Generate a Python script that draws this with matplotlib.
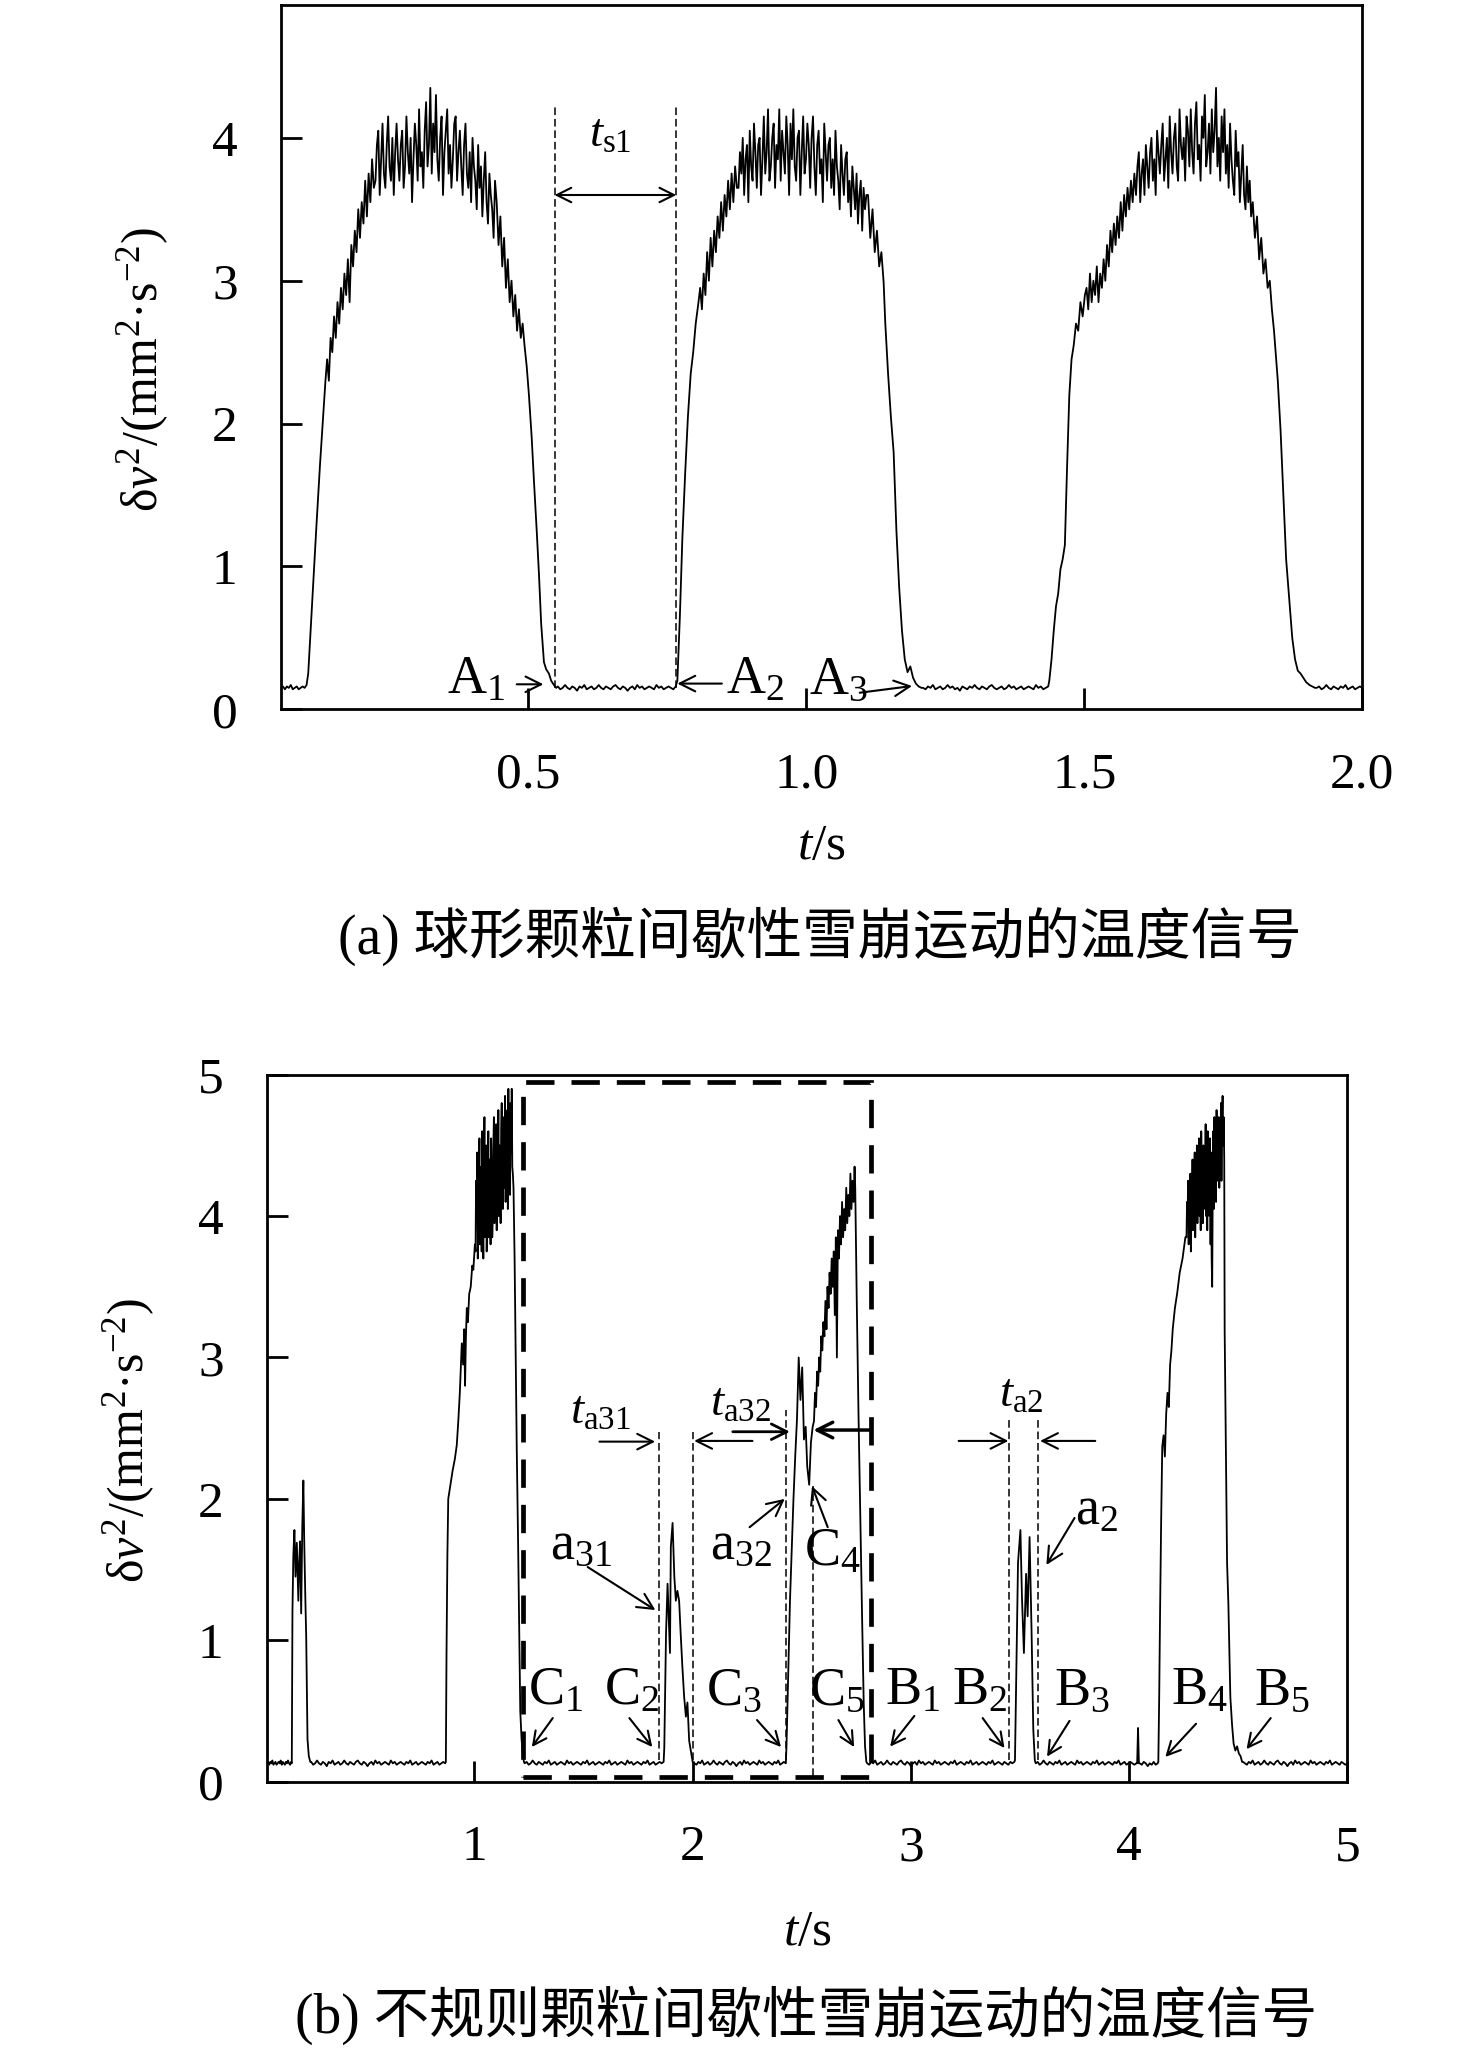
import numpy as np
import matplotlib
matplotlib.use('Agg')
import matplotlib.pyplot as plt
from matplotlib.patches import Rectangle

plt.rcParams.update({
    'font.family': ['Liberation Serif', 'Noto Sans CJK SC'],
    'mathtext.fontset': 'custom',
    'mathtext.rm': 'Liberation Serif',
    'mathtext.it': 'Liberation Serif:italic',
    'mathtext.bf': 'Liberation Serif:bold',
    'font.size': 37,
    'axes.linewidth': 2.0,
})

# ================= panel (a) data: spherical particles =================
a_base0_span = (0.055, 0.101)
a_base0 = [0.15, 0.16, 0.14, 0.16, 0.15, 0.17, 0.14, 0.15, 0.16, 0.14, 0.15, 0.16, 0.15, 0.17]
a_rise1_t = [0.104, 0.109, 0.114, 0.119, 0.125, 0.130, 0.135]
a_rise1_v = [0.25, 0.6, 0.95, 1.3, 1.7, 2.0, 2.3]
a_ramp1_span = (0.138, 0.222)
a_ramp1 = [2.45, 2.3, 2.6, 2.5, 2.75, 2.6, 2.85, 2.7, 2.95, 2.8, 3.05, 2.9, 3.15, 2.85,
           3.25, 3.1, 3.35, 3.2, 3.5, 3.3, 3.55, 3.4, 3.7, 3.45, 3.75, 3.55, 3.85, 3.65]
a_top1_span = (0.225, 0.440)
a_top1 = [3.7, 3.95, 4.05, 3.6, 3.85, 4.1, 3.75, 3.65, 3.95, 4.15, 3.8, 3.7, 4.0, 3.6, 3.9, 4.1, 3.85, 3.7, 3.95, 4.05,
          3.65, 3.8, 4.15, 3.9, 3.75, 4.0, 3.55, 3.85, 4.1, 3.95, 3.7, 4.2, 3.8, 3.9, 3.65, 4.05, 4.25, 3.8, 3.95, 4.35,
          3.75, 4.1, 3.9, 4.3, 3.85, 3.7, 4.0, 4.15, 3.6, 3.9, 4.05, 4.2, 3.75, 3.95, 3.65, 3.85, 4.1, 4.15, 3.7, 3.9,
          4.05, 3.8, 3.6, 3.95, 4.1, 3.75, 3.65, 3.9, 3.55, 4.0, 3.8, 3.7, 3.5, 3.95, 3.65, 3.8, 3.45, 3.7, 3.9, 3.55,
          3.4, 3.75, 3.6, 3.5, 3.3, 3.7]
a_dec1_span = (0.443, 0.493)
a_dec1 = [3.55, 3.25, 3.45, 3.1, 3.3, 2.95, 3.15, 2.85, 3.0, 2.75, 2.9, 2.65, 2.8, 2.6, 2.7, 2.55]
a_fall1_t = [0.497, 0.501, 0.506, 0.510, 0.515, 0.519, 0.523, 0.528, 0.532, 0.537, 0.541, 0.546, 0.550]
a_fall1_v = [2.4, 2.2, 1.9, 1.6, 1.25, 0.95, 0.6, 0.33, 0.28, 0.25, 0.2, 0.17, 0.15]
a_base1_span = (0.553, 0.765)
a_base1 = [0.16, 0.14, 0.15, 0.17, 0.15, 0.14, 0.16, 0.15, 0.13, 0.16, 0.15, 0.17, 0.14, 0.15, 0.16, 0.14, 0.15,
           0.17, 0.15, 0.14, 0.16, 0.15, 0.14, 0.16, 0.17, 0.15, 0.14, 0.16, 0.15, 0.13, 0.15, 0.16, 0.14, 0.17,
           0.15, 0.16, 0.14, 0.15, 0.16, 0.15, 0.14, 0.17, 0.15, 0.16, 0.14, 0.15, 0.16, 0.15, 0.14, 0.16]
a_rise2_t = [0.768, 0.7725, 0.777, 0.782, 0.787, 0.792, 0.7965, 0.801, 0.806]
a_rise2_v = [0.2, 0.65, 1.2, 1.65, 2.05, 2.35, 2.5, 2.7, 2.85]
a_ramp2_span = (0.809, 0.875)
a_ramp2 = [2.95, 2.8, 3.05, 2.9, 3.2, 3.0, 3.3, 3.1, 3.35, 3.2, 3.45, 3.3, 3.55, 3.35, 3.6, 3.45, 3.7, 3.5,
           3.75, 3.55, 3.8, 3.65]
a_top2_span = (0.878, 1.108)
a_top2 = [3.65, 3.9, 3.75, 4.0, 3.6, 3.85, 3.95, 3.55, 4.05, 3.8, 3.7, 4.1, 3.9, 3.65, 3.95, 4.0, 3.6, 3.85, 4.15, 3.75,
          3.9, 4.2, 3.7, 3.8, 4.0, 4.1, 3.65, 3.95, 3.85, 4.2, 3.7, 4.05, 3.9, 3.75, 4.15, 3.95, 3.6, 4.1, 3.85, 4.2,
          3.8, 3.7, 4.0, 4.05, 3.6, 3.9, 4.15, 3.75, 3.85, 4.1, 3.95, 3.65, 4.0, 4.15, 3.8, 3.6, 3.95, 4.05, 3.75, 3.85,
          3.55, 4.1, 3.9, 3.7, 3.95, 4.0, 3.65, 3.85, 3.6, 4.05, 3.8, 3.7, 3.5, 3.95, 3.75, 3.6, 3.85, 3.9, 3.55, 3.7,
          3.45, 3.8, 3.65, 3.5, 3.75, 3.4, 3.6, 3.7, 3.35, 3.65, 3.5, 3.6]
a_dec2_span = (1.111, 1.139)
a_dec2 = [3.6, 3.3, 3.5, 3.2, 3.35, 3.1, 3.2, 2.99]
a_fall2_t = [1.142, 1.147, 1.152, 1.157, 1.162, 1.167, 1.172, 1.177, 1.182, 1.187, 1.192, 1.197, 1.202, 1.207]
a_fall2_v = [2.7, 2.35, 2.05, 1.8, 1.25, 0.85, 0.55, 0.35, 0.26, 0.3, 0.22, 0.18, 0.16, 0.15]
a_base2_span = (1.210, 1.435)
a_base2 = [0.15, 0.14, 0.16, 0.15, 0.17, 0.14, 0.15, 0.16, 0.14, 0.15, 0.17, 0.15, 0.16, 0.14, 0.15, 0.13, 0.16,
           0.15, 0.14, 0.16, 0.15, 0.17, 0.15, 0.14, 0.16, 0.15, 0.14, 0.16, 0.17, 0.15, 0.14, 0.15, 0.16, 0.14,
           0.15, 0.17, 0.15, 0.16, 0.14, 0.15, 0.16, 0.14, 0.15, 0.16, 0.15, 0.14, 0.17, 0.15, 0.16, 0.14, 0.15, 0.16]
a_rise3_t = [1.437, 1.441, 1.445, 1.449, 1.453, 1.457, 1.461, 1.465, 1.469, 1.473, 1.477, 1.481, 1.485,
             1.489, 1.493, 1.497, 1.501]
a_rise3_v = [0.2, 0.35, 0.55, 0.72, 0.81, 0.98, 1.05, 1.15, 1.7, 2.2, 2.45, 2.55, 2.7, 2.65, 2.85, 2.75, 2.9]
a_ramp3_span = (1.504, 1.590)
a_ramp3 = [2.95, 2.8, 3.05, 2.85, 3.0, 2.9, 3.1, 2.85, 3.05, 2.95, 3.15, 3.0, 3.25, 3.1, 3.35, 3.2, 3.4, 3.25,
           3.45, 3.3, 3.55, 3.35, 3.6, 3.45, 3.65, 3.5, 3.7, 3.55, 3.75]
a_top3_span = (1.593, 1.800)
a_top3 = [3.6, 3.8, 3.9, 3.55, 3.75, 3.85, 3.6, 3.95, 3.8, 3.65, 3.9, 4.0, 3.7, 3.85, 3.6, 4.05, 3.9, 3.75, 3.95, 4.1,
          3.7, 3.85, 4.0, 3.65, 4.15, 3.9, 3.75, 4.0, 4.1, 3.8, 3.7, 4.2, 3.95, 3.85, 4.0, 3.7, 4.15, 4.05, 3.8, 4.2,
          3.9, 3.75, 4.1, 4.25, 3.85, 3.95, 3.7, 4.15, 4.0, 4.3, 3.8, 3.9, 4.1, 3.75, 4.2, 3.9, 4.05, 4.35, 3.8, 4.0,
          3.7, 4.15, 3.9, 4.2, 3.75, 3.95, 3.65, 4.1, 3.85, 3.7, 3.6, 4.05, 3.8, 3.9, 3.55, 3.75, 3.95, 3.6, 3.5, 3.8,
          3.55, 3.7, 3.45]
a_dec3_span = (1.803, 1.845)
a_dec3 = [3.55, 3.3, 3.45, 3.15, 3.3, 3.05, 3.15, 2.95, 3.0, 2.8, 2.65, 2.45]
a_fall3_t = [1.848, 1.853, 1.858, 1.863, 1.869, 1.874, 1.879, 1.884, 1.889, 1.894, 1.899, 1.905, 1.910, 1.915]
a_fall3_v = [2.3, 1.95, 1.5, 1.05, 0.75, 0.5, 0.35, 0.27, 0.25, 0.22, 0.19, 0.17, 0.16, 0.15]
a_base3_span = (1.918, 2.0)
a_base3 = [0.15, 0.16, 0.14, 0.15, 0.17, 0.15, 0.14, 0.16, 0.15, 0.14, 0.16, 0.15, 0.17, 0.14, 0.15, 0.16,
           0.14, 0.15, 0.16, 0.15]

# ================= panel (b) data: irregular particles =================
b_base0_span = (0.05, 0.160)
b_base0 = [0.13, 0.14, 0.12, 0.14, 0.13, 0.15, 0.12, 0.13, 0.14, 0.12, 0.13, 0.14, 0.13, 0.15, 0.12, 0.14,
           0.13, 0.12, 0.14, 0.13, 0.15, 0.13, 0.12, 0.14]
b_burst1_t = [0.163, 0.166, 0.170, 0.175, 0.180, 0.186, 0.193, 0.197, 0.201, 0.206, 0.211, 0.216, 0.220,
              0.225, 0.229, 0.235, 0.241, 0.248]
b_burst1_v = [0.13, 1.2, 1.6, 1.78, 1.45, 1.69, 1.28, 1.55, 1.70, 1.19, 1.8, 2.13, 1.7, 1.3, 1.03, 0.3, 0.18, 0.14]
b_base1_span = (0.252, 0.866)
b_base1 = [0.14, 0.12, 0.13, 0.15, 0.13, 0.12, 0.14, 0.13, 0.11, 0.14, 0.13, 0.15, 0.12, 0.13, 0.14, 0.12, 0.13,
           0.15, 0.13, 0.12, 0.14, 0.13, 0.12, 0.14, 0.15, 0.13, 0.12, 0.14, 0.13, 0.11, 0.13, 0.14, 0.12, 0.15,
           0.13, 0.14, 0.12, 0.13, 0.14, 0.13, 0.12, 0.15, 0.13, 0.14, 0.12, 0.13, 0.14, 0.13, 0.12, 0.14,
           0.13, 0.15, 0.12, 0.13, 0.14, 0.12, 0.13, 0.14, 0.13, 0.12, 0.14, 0.13, 0.15, 0.12, 0.13, 0.14,
           0.12, 0.13, 0.14, 0.13]
b_rise2_t = [0.869, 0.872, 0.876, 0.880, 0.890, 0.900, 0.910, 0.919, 0.926, 0.933, 0.942, 0.948, 0.953,
             0.957, 0.961, 0.965, 0.970, 0.976, 0.983, 0.990, 0.995, 1.002]
b_rise2_v = [0.14, 0.9, 1.6, 2.0, 2.1, 2.2, 2.28, 2.38, 2.55, 2.75, 3.1, 2.95, 3.2, 2.8, 3.15, 3.35, 3.25,
             3.45, 3.5, 3.65, 3.62, 3.8]
b_top2_span = (1.005, 1.176)
b_top2 = [3.75, 4.25, 4.0, 4.45, 3.7, 3.9, 4.2, 4.55, 3.8, 4.05, 4.35, 3.75, 4.6, 4.1, 3.7, 4.3, 4.7, 3.85, 4.15, 4.5,
          3.75, 4.0, 4.25, 4.6, 3.85, 4.4, 4.1, 3.8, 4.55, 4.3, 3.85, 4.0, 4.5, 4.7, 3.95, 4.4, 4.1, 4.65, 3.9, 4.45,
          4.2, 4.75, 4.0, 4.5, 4.3, 3.95, 4.6, 4.8, 4.15, 4.05, 4.5, 4.7, 4.2, 4.85, 4.1, 4.55, 4.35, 4.75, 4.05, 4.9,
          4.25, 4.6, 4.15, 4.8, 4.45, 4.9, 4.35, 4.3]
b_fall2_t = [1.179, 1.184, 1.189, 1.194, 1.200, 1.205, 1.210, 1.216, 1.222, 1.227]
b_fall2_v = [4.2, 3.7, 3.0, 2.34, 1.7, 1.1, 0.5, 0.3, 0.18, 0.14]
b_base2_span = (1.230, 1.867)
b_base2 = [0.13, 0.14, 0.12, 0.13, 0.15, 0.13, 0.12, 0.14, 0.13, 0.12, 0.14, 0.13, 0.15, 0.12, 0.13, 0.14,
           0.12, 0.13, 0.14, 0.13, 0.12, 0.15, 0.13, 0.14, 0.12, 0.13, 0.14, 0.13, 0.12, 0.14, 0.13, 0.15,
           0.12, 0.13, 0.14, 0.12, 0.13, 0.14, 0.13, 0.12, 0.14, 0.13, 0.15, 0.12, 0.13, 0.14, 0.12, 0.13,
           0.14, 0.13, 0.12, 0.15, 0.13, 0.14, 0.12, 0.13, 0.14, 0.13, 0.12, 0.14, 0.13, 0.15, 0.12, 0.13,
           0.14, 0.12, 0.13, 0.14, 0.13, 0.14]
b_a31_t = [1.870, 1.878, 1.885, 1.896, 1.900, 1.908, 1.916, 1.923, 1.930, 1.938, 1.945, 1.953, 1.961,
           1.969, 1.976, 1.984, 1.996]
b_a31_v = [0.24, 1.05, 1.40, 0.91, 1.66, 1.83, 1.45, 1.28, 1.35, 1.28, 1.05, 0.81, 0.6, 0.46, 0.56, 0.29, 0.18]
b_base3_span = (2.000, 2.427)
b_base3 = [0.14, 0.13, 0.12, 0.14, 0.13, 0.15, 0.12, 0.13, 0.14, 0.12, 0.13, 0.15, 0.13, 0.12, 0.14, 0.13,
           0.12, 0.14, 0.15, 0.13, 0.12, 0.14, 0.13, 0.11, 0.13, 0.14, 0.12, 0.15, 0.13, 0.14, 0.12, 0.13,
           0.14, 0.13, 0.12, 0.15, 0.13, 0.14, 0.12, 0.13, 0.14, 0.13, 0.12, 0.14, 0.13, 0.15, 0.12, 0.13,
           0.14, 0.13]
b_a32_t = [2.430, 2.438, 2.446, 2.454, 2.462, 2.470, 2.478, 2.486, 2.494, 2.502, 2.510, 2.518, 2.525,
           2.534, 2.542, 2.550]
b_a32_v = [0.25, 0.75, 1.28, 1.65, 2.0, 2.3, 2.56, 3.0, 2.7, 2.93, 2.42, 2.51, 2.23, 2.10, 2.4, 2.51]
b_ramp4_span = (2.556, 2.742)
b_ramp4 = [2.55, 2.75, 2.65, 2.9, 2.8, 3.0, 2.9, 3.15, 3.05, 3.25, 3.15, 3.4, 3.2, 3.5, 3.35, 3.6, 3.45, 3.7, 3.5, 3.75,
           3.3, 3.85, 3.0, 3.9, 3.7, 4.0, 3.8, 4.1, 3.85, 4.05, 3.9, 4.2, 3.95, 4.15, 4.0, 4.3, 4.05, 4.25, 4.1, 4.35]
b_fall4_t = [2.745, 2.752, 2.760, 2.768, 2.776, 2.784, 2.790, 2.796]
b_fall4_v = [4.2, 3.4, 2.6, 1.9, 1.2, 0.55, 0.25, 0.14]
b_base4_span = (2.800, 3.474)
b_base4 = [0.13, 0.12, 0.14, 0.13, 0.15, 0.12, 0.13, 0.14, 0.12, 0.13, 0.15, 0.13, 0.12, 0.14, 0.13, 0.12,
           0.14, 0.15, 0.13, 0.12, 0.14, 0.13, 0.11, 0.13, 0.14, 0.12, 0.15, 0.13, 0.14, 0.12, 0.13, 0.14,
           0.13, 0.12, 0.15, 0.13, 0.14, 0.12, 0.13, 0.14, 0.13, 0.12, 0.14, 0.13, 0.15, 0.12, 0.13, 0.14,
           0.13, 0.12, 0.14, 0.13, 0.15, 0.12, 0.13, 0.14, 0.12, 0.13, 0.14, 0.13, 0.12, 0.14, 0.13, 0.15,
           0.12, 0.13, 0.14, 0.13, 0.12, 0.14, 0.13, 0.12, 0.14, 0.13, 0.14]
b_a2_t = [3.477, 3.484, 3.491, 3.502, 3.509, 3.518, 3.528, 3.535, 3.544, 3.553, 3.561, 3.568]
b_a2_v = [0.15, 0.84, 1.55, 1.78, 1.31, 0.91, 1.47, 1.17, 1.73, 1.07, 0.37, 0.15]
b_base5_span = (3.572, 4.033)
b_base5 = [0.13, 0.14, 0.12, 0.13, 0.15, 0.13, 0.12, 0.14, 0.13, 0.12, 0.14, 0.13, 0.15, 0.12, 0.13, 0.14,
           0.12, 0.13, 0.14, 0.13, 0.12, 0.15, 0.13, 0.14, 0.12, 0.13, 0.14, 0.13, 0.12, 0.14, 0.13, 0.15,
           0.12, 0.13, 0.14, 0.12, 0.13, 0.14, 0.13, 0.12, 0.14, 0.13, 0.15, 0.12, 0.13, 0.14, 0.12, 0.13,
           0.14, 0.13, 0.12, 0.13]
b_spike_t = [4.037, 4.041, 4.045]
b_spike_v = [0.13, 0.38, 0.13]
b_base6_span = (4.049, 4.131)
b_base6 = [0.13, 0.12, 0.14, 0.13, 0.11, 0.13, 0.12, 0.14, 0.12, 0.13]
b_rise6_t = [4.134, 4.138, 4.142, 4.147, 4.152, 4.158, 4.164, 4.170, 4.176, 4.182, 4.188, 4.194, 4.200,
             4.210, 4.220, 4.232, 4.245, 4.258]
b_rise6_v = [0.14, 0.6, 1.2, 1.85, 2.37, 2.45, 2.3, 2.6, 2.75, 2.65, 2.95, 3.05, 3.2, 3.35, 3.45, 3.6, 3.7, 3.85]
b_top6_span = (4.263, 4.436)
b_top6 = [3.85, 4.1, 4.0, 4.25, 3.8, 4.05, 3.95, 4.3, 3.75, 4.15, 4.0, 4.4, 3.9, 4.2, 4.05, 4.45, 3.85, 4.25, 4.1, 4.5,
          3.95, 4.3, 4.15, 4.55, 4.0, 4.35, 3.9, 4.6, 4.2, 4.3, 3.95, 4.5, 4.05, 4.4, 4.2, 4.65, 4.0, 4.45, 3.9, 4.6,
          4.25, 4.35, 4.0, 4.55, 3.8, 4.45, 3.7, 3.5, 4.2, 4.6, 4.05, 4.7, 4.3, 4.5, 4.1, 4.75, 4.25, 4.55, 4.4, 4.7,
          4.2, 4.6, 4.35, 4.8, 4.25, 4.65, 4.85, 4.5, 4.7, 4.4]
b_fall6_t = [4.438, 4.444, 4.449, 4.455, 4.464, 4.472, 4.479, 4.487, 4.495, 4.503, 4.511, 4.518]
b_fall6_v = [3.19, 2.3, 1.55, 1.26, 0.6, 0.4, 0.27, 0.22, 0.25, 0.2, 0.18, 0.14]
b_base7_span = (4.522, 5.0)
b_base7 = [0.14, 0.13, 0.12, 0.14, 0.13, 0.15, 0.12, 0.13, 0.14, 0.12, 0.13, 0.15, 0.13, 0.12, 0.14, 0.13,
           0.12, 0.14, 0.15, 0.13, 0.12, 0.14, 0.13, 0.11, 0.13, 0.14, 0.12, 0.15, 0.13, 0.14, 0.12, 0.13,
           0.14, 0.13, 0.12, 0.15, 0.13, 0.14, 0.12, 0.13, 0.14, 0.13, 0.12, 0.14, 0.13, 0.15, 0.12, 0.13,
           0.14, 0.13, 0.12, 0.14, 0.13, 0.12, 0.13]

a_xticks = [0.5, 1.0, 1.5, 2.0]
a_xticklabels = ['0.5', '1.0', '1.5', '2.0']
a_yticks = [0, 1, 2, 3, 4]
b_xticks = [1, 2, 3, 4, 5]
b_yticks = [0, 1, 2, 3, 4, 5]

caption_a = '(a) 球形颗粒间歇性雪崩运动的温度信号'
caption_b = '(b) 不规则颗粒间歇性雪崩运动的温度信号'
ylabel = r'δ$\mathit{v}^{2}$/(mm$^{2}$·s$^{-2}$)'
xlabel = r'$\mathit{t}$/s'


def even(span, vals):
    # uniformly sampled stretch of the recorded signal
    return np.linspace(span[0], span[1], len(vals)), np.asarray(vals, float)


def pair(t, v):
    return np.asarray(t, float), np.asarray(v, float)


def join(parts):
    t = np.concatenate([p[0] for p in parts])
    v = np.concatenate([p[1] for p in parts])
    return t, v


sig_a = join([
    even(a_base0_span, a_base0), pair(a_rise1_t, a_rise1_v), even(a_ramp1_span, a_ramp1),
    even(a_top1_span, a_top1), even(a_dec1_span, a_dec1), pair(a_fall1_t, a_fall1_v),
    even(a_base1_span, a_base1), pair(a_rise2_t, a_rise2_v), even(a_ramp2_span, a_ramp2),
    even(a_top2_span, a_top2), even(a_dec2_span, a_dec2), pair(a_fall2_t, a_fall2_v),
    even(a_base2_span, a_base2), pair(a_rise3_t, a_rise3_v), even(a_ramp3_span, a_ramp3),
    even(a_top3_span, a_top3), even(a_dec3_span, a_dec3), pair(a_fall3_t, a_fall3_v),
    even(a_base3_span, a_base3),
])

sig_b = join([
    even(b_base0_span, b_base0), pair(b_burst1_t, b_burst1_v), even(b_base1_span, b_base1),
    pair(b_rise2_t, b_rise2_v), even(b_top2_span, b_top2), pair(b_fall2_t, b_fall2_v),
    even(b_base2_span, b_base2), pair(b_a31_t, b_a31_v), even(b_base3_span, b_base3),
    pair(b_a32_t, b_a32_v), even(b_ramp4_span, b_ramp4), pair(b_fall4_t, b_fall4_v),
    even(b_base4_span, b_base4), pair(b_a2_t, b_a2_v), even(b_base5_span, b_base5),
    pair(b_spike_t, b_spike_v), even(b_base6_span, b_base6), pair(b_rise6_t, b_rise6_v),
    even(b_top6_span, b_top6), pair(b_fall6_t, b_fall6_v), even(b_base7_span, b_base7),
])

W, H = 1476, 2061
fig = plt.figure(figsize=(W / 100, H / 100), dpi=100)

ax_a = fig.add_axes([280.7 / W, 1 - 709.3 / H, 1081.6 / W, 704.3 / H])
ax_b = fig.add_axes([266.7 / W, 1 - 1781.7 / H, 1080.6 / W, 707.0 / H])

LETTER = 39
TLAB = 34
thin_dash = (0, (5, 2.5))


def style_axes(ax):
    ax.tick_params(direction='in', length=15, width=2, pad=31, labelsize=37,
                   top=False, right=False)
    ax.set_ylabel(ylabel, fontsize=36, va='center', ha='center')
    ax.set_xlabel(xlabel, fontsize=37, va='center', ha='center')


def arrow(ax, tail, head, lw=1.5, style='->', ms=28):
    ax.annotate('', xy=head, xytext=tail,
                arrowprops=dict(arrowstyle=style, lw=lw, color='k',
                                shrinkA=0, shrinkB=0, mutation_scale=ms))


# ---------------- panel (a) ----------------
ax_a.plot(sig_a[0], sig_a[1], color='k', lw=1.3)
ax_a.set_xlim(0.0545, 2.0)
ax_a.set_ylim(0, 4.93)
ax_a.set_xticks(a_xticks)
ax_a.set_xticklabels(a_xticklabels)
ax_a.set_yticks(a_yticks)
style_axes(ax_a)
ax_a.yaxis.set_label_coords(-0.127, 0.482)
ax_a.xaxis.set_label_coords(0.5, -0.195)

for xv in (0.547, 0.766):
    ax_a.plot([xv, xv], [0.15, 4.23], color='k', lw=1.1, ls=thin_dash)
arrow(ax_a, (0.547, 3.6), (0.766, 3.6), style='<->', ms=26)
ax_a.text(0.648, 4.02, r'$\mathit{t}_{\mathrm{s1}}$', fontsize=TLAB, ha='center', va='center')

ax_a.text(0.406, 0.205, r'$\mathrm{A}_{1}$', fontsize=LETTER, ha='center', va='center')
arrow(ax_a, (0.479, 0.175), (0.527, 0.175))
ax_a.text(0.908, 0.205, r'$\mathrm{A}_{2}$', fontsize=LETTER, ha='center', va='center')
arrow(ax_a, (0.848, 0.18), (0.768, 0.18))
ax_a.text(1.057, 0.2, r'$\mathrm{A}_{3}$', fontsize=LETTER, ha='center', va='center')
arrow(ax_a, (1.096, 0.116), (1.190, 0.163))

# ---------------- panel (b) ----------------
ax_b.plot(sig_b[0], sig_b[1], color='k', lw=1.3)
ax_b.set_xlim(0.048, 5.0)
ax_b.set_ylim(0, 5)
ax_b.set_xticks(b_xticks)
ax_b.set_yticks(b_yticks)
style_axes(ax_b)
ax_b.yaxis.set_label_coords(-0.127, 0.482)
ax_b.xaxis.set_label_coords(0.5, -0.214)

ax_b.add_patch(Rectangle((1.224, 0.035), 2.818 - 1.224, 4.946 - 0.035, fill=False,
                         ec='k', lw=3.4, ls=(0, (6, 3.6)), zorder=3))

for xv, y0, y1 in [(1.847, 0.15, 2.475), (2.002, 0.15, 2.475), (2.427, 0.15, 2.63),
                   (2.550, 0.04, 2.09), (3.450, 0.15, 2.563), (3.584, 0.15, 2.563)]:
    ax_b.plot([xv, xv], [y0, y1], color='k', lw=1.1, ls=thin_dash)

arrow(ax_b, (1.573, 2.405), (1.828, 2.405))
arrow(ax_b, (2.274, 2.41), (2.007, 2.41))
arrow(ax_b, (2.184, 2.475), (2.446, 2.475), lw=2.0)
arrow(ax_b, (2.812, 2.487), (2.553, 2.487), lw=2.5)
arrow(ax_b, (3.219, 2.41), (3.447, 2.41))
arrow(ax_b, (3.845, 2.41), (3.592, 2.41))

ax_b.text(1.578, 2.61, r'$\mathit{t}_{\mathrm{a31}}$', fontsize=TLAB, ha='center', va='center')
ax_b.text(2.219, 2.67, r'$\mathit{t}_{\mathrm{a32}}$', fontsize=TLAB, ha='center', va='center')
ax_b.text(3.507, 2.73, r'$\mathit{t}_{\mathrm{a2}}$', fontsize=TLAB, ha='center', va='center')

ax_b.text(1.489, 1.67, r'$\mathrm{a}_{31}$', fontsize=LETTER, ha='center', va='center')
arrow(ax_b, (1.519, 1.518), (1.829, 1.214))
ax_b.text(2.222, 1.67, r'$\mathrm{a}_{32}$', fontsize=LETTER, ha='center', va='center')
arrow(ax_b, (2.261, 1.80), (2.422, 2.0))
ax_b.text(2.642, 1.62, r'$\mathrm{C}_{4}$', fontsize=LETTER, ha='center', va='center')
arrow(ax_b, (2.619, 1.80), (2.547, 2.09))
ax_b.text(3.852, 1.91, r'$\mathrm{a}_{2}$', fontsize=LETTER, ha='center', va='center')
arrow(ax_b, (3.750, 1.865), (3.621, 1.533))

low_labels = [
    (r'$\mathrm{C}_{1}$', 1.373, (1.359, 0.45), (1.263, 0.245)),
    (r'$\mathrm{C}_{2}$', 1.719, (1.710, 0.45), (1.815, 0.245)),
    (r'$\mathrm{C}_{3}$', 2.189, (2.295, 0.436), (2.405, 0.245)),
    (r'$\mathrm{C}_{5}$', 2.663, (2.668, 0.436), (2.740, 0.245)),
    (r'$\mathrm{B}_{1}$', 3.008, (3.016, 0.465), (2.905, 0.248)),
    (r'$\mathrm{B}_{2}$', 3.317, (3.329, 0.45), (3.429, 0.238)),
    (r'$\mathrm{B}_{3}$', 3.786, (3.727, 0.43), (3.624, 0.177)),
    (r'$\mathrm{B}_{4}$', 4.323, (4.307, 0.41), (4.166, 0.175)),
    (r'$\mathrm{B}_{5}$', 4.702, (4.649, 0.45), (4.538, 0.23)),
]
for txt, xc, tail, head in low_labels:
    ax_b.text(xc, 0.64, txt, fontsize=LETTER, ha='center', va='center')
    arrow(ax_b, tail, head, ms=24)

fig.text(820 / W, 1 - 936 / H, caption_a, fontsize=40, ha='center', va='center')
fig.text(806 / W, 1 - 2015 / H, caption_b, fontsize=40, ha='center', va='center')

fig.savefig('out.png', dpi=100)
